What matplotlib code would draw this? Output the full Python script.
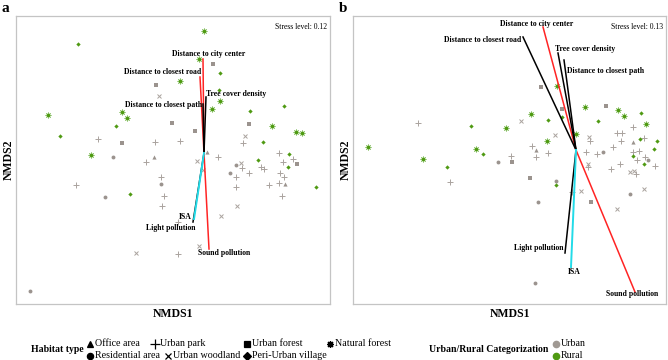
import matplotlib.pyplot as plt

plt.rcParams['font.family'] = ['Liberation Serif', 'DejaVu Serif']

GRAY = '#9b938e'
GREEN = '#4f9a12'
RED = '#ff2424'
CYAN = '#22dbe8'

# ordination scores (screen units, y grows downward)
a_park = [(98, 139), (155, 142), (180, 141), (243, 143), (146, 162), (218, 157), (242, 168),
          (249, 173), (236, 177), (261, 167), (264, 169), (279, 153), (293, 159), (283, 162),
          (280, 173), (284, 177), (279, 183), (269, 185), (236, 187), (76, 185), (161, 177),
          (164, 196), (162, 206), (282, 196), (178, 222), (178, 254)]
a_woodland = [(159, 96), (245, 136), (197, 161), (241, 163), (203, 170), (237, 206), (221, 216),
              (199, 246), (136, 253)]
a_forest = [(213, 64), (156, 85), (172, 123), (249, 124), (195, 131), (122, 143), (297, 164)]
a_residential = [(113, 157), (236, 165), (230, 173), (161, 184), (105, 197), (30, 291)]
a_office = [(154, 157), (207, 152), (285, 184)]
a_natural = [(204, 31), (199, 59), (180, 81), (220, 101), (212, 109), (48, 115), (122, 112),
             (127, 118), (272, 126), (296, 132), (302, 133), (91, 155)]
a_village = [(78, 44), (220, 73), (219, 90), (284, 106), (250, 111), (116, 126), (60, 136),
             (263, 142), (258, 160), (289, 154), (288, 167), (316, 187), (130, 194)]

b_park = [(418, 123), (633, 127), (617, 133), (622, 133), (590, 141), (644, 138), (532, 146),
          (613, 147), (511, 156), (548, 153), (536, 157), (586, 152), (597, 154), (621, 141),
          (633, 152), (639, 151), (645, 157), (637, 160), (655, 166), (620, 164), (611, 169),
          (636, 174), (588, 167), (450, 182), (572, 192)]
b_woodland = [(521, 121), (555, 135), (589, 137), (630, 172), (634, 171), (588, 164), (581, 191),
              (644, 189), (617, 209)]
b_forest = [(541, 87), (562, 109), (606, 106), (512, 162), (530, 178), (591, 202)]
b_residential = [(603, 152), (648, 160), (498, 162), (556, 181), (538, 202), (630, 194), (535, 283)]
b_office = [(633, 142), (536, 150)]
b_natural = [(557, 86), (585, 107), (618, 110), (624, 116), (531, 114), (506, 128), (646, 124),
             (576, 134), (547, 141), (368, 147), (476, 149), (423, 159)]
b_village = [(641, 113), (548, 120), (562, 117), (598, 121), (471, 126), (640, 139), (657, 141),
             (483, 154), (654, 149), (633, 156), (644, 164), (447, 167), (556, 185)]

# environmental vectors: name, tip, colour
a_origin = (204, 153)
a_vectors = [('Distance to city center', (203, 59), RED),
             ('Distance to closest road', (200, 77), RED),
             ('Tree cover density', (206, 97), 'black'),
             ('Distance to closest path', (203, 104), 'black'),
             ('Light pollution', (193, 222), 'black'),
             ('ISA', (194, 219), CYAN),
             ('Sound pollution', (209, 249), RED)]
b_origin = (576, 150)
b_vectors = [('Distance to city center', (543, 27), RED),
             ('Distance to closest road', (523, 37), 'black'),
             ('Tree cover density', (558, 53), 'black'),
             ('Distance to closest path', (564, 60), 'black'),
             ('Light pollution', (565, 253), 'black'),
             ('ISA', (571, 267), CYAN),
             ('Sound pollution', (635, 292), RED)]

# label placement (x, y, ha)
a_label_pos = {'Distance to city center': (209, 54, 'center'),
               'Distance to closest road': (201, 72, 'right'),
               'Tree cover density': (206, 94, 'left'),
               'Distance to closest path': (202, 105, 'right'),
               'Light pollution': (196, 228, 'right'),
               'ISA': (192, 217, 'right'),
               'Sound pollution': (198, 253, 'left')}
b_label_pos = {'Distance to city center': (537, 24, 'center'),
               'Distance to closest road': (521, 40, 'right'),
               'Tree cover density': (555, 49, 'left'),
               'Distance to closest path': (567, 71, 'left'),
               'Light pollution': (563, 248, 'right'),
               'ISA': (574, 272, 'center'),
               'Sound pollution': (606, 294, 'left')}

W, H = 668, 360
fig = plt.figure(figsize=(6.68, 3.6), dpi=100)


def draw_points(ax, pts, marker, color, size, mew=0.8):
    xs, ys = zip(*pts)
    ax.plot(xs, ys, linestyle='none', marker=marker, markersize=size,
            color=color, markeredgewidth=mew, zorder=2)


def panel(rect, groups, origin, vectors, label_pos, stress, letter):
    ax = fig.add_axes([rect[0] / W, 1 - rect[3] / H, (rect[2] - rect[0]) / W, (rect[3] - rect[1]) / H])
    ax.set_xlim(rect[0], rect[2])
    ax.set_ylim(rect[3], rect[1])
    park, woodland, forest, residential, office, natural, village = groups
    draw_points(ax, park, '+', '#aaa39e', 5, mew=0.7)
    draw_points(ax, woodland, 'x', '#aaa39e', 3.3, mew=0.7)
    draw_points(ax, forest, 's', GRAY, 2.8, mew=0)
    draw_points(ax, residential, 'o', GRAY, 2.8, mew=0)
    draw_points(ax, office, '^', GRAY, 3, mew=0)
    draw_points(ax, natural, (8, 2, 0), '#9acb7c', 4.3, mew=0.6)
    draw_points(ax, natural, 'o', GREEN, 2.6, mew=0)
    draw_points(ax, village, 'D', GREEN, 2.2, mew=0)

    for name, tip, col in vectors:
        lw = 1.4 if col == CYAN else 1.1
        ax.plot([origin[0], tip[0]], [origin[1], tip[1]], color=col, lw=lw,
                zorder=4 if col == CYAN else 3)
        lx, ly, ha = label_pos[name]
        ax.text(lx, ly, name, ha=ha, va='center', fontsize=5.6, fontweight='bold', zorder=5)

    ax.text(0.992, 0.975, 'Stress level: ' + stress, transform=ax.transAxes,
            ha='right', va='top', fontsize=5.5)
    ax.set_xticks([])
    ax.set_yticks([])
    for s in ax.spines.values():
        s.set_color('#c4c4c4')
        s.set_linewidth(0.9)
    ax.set_xlabel('NMDS1', fontsize=8.5, fontweight='bold', labelpad=3)
    ax.set_ylabel('NMDS2', fontsize=8.5, fontweight='bold', labelpad=1)
    fig.text((rect[0] - 14) / W, 1 - 9 / H, letter, fontsize=11, fontweight='bold', va='center')
    return ax


panel((16, 16, 330, 304),
      (a_park, a_woodland, a_forest, a_residential, a_office, a_natural, a_village),
      a_origin, a_vectors, a_label_pos, '0.12', 'a')
panel((353, 16, 666, 304),
      (b_park, b_woodland, b_forest, b_residential, b_office, b_natural, b_village),
      b_origin, b_vectors, b_label_pos, '0.13', 'b')

# legends drawn in figure pixel space
leg = fig.add_axes([0, 0, 1, 1])
leg.set_xlim(0, W)
leg.set_ylim(H, 0)
leg.axis('off')

habitat_names = ['Office area', 'Residential area', 'Urban park', 'Urban woodland',
                 'Urban forest', 'Peri-Urban village', 'Natural forest']
habitat_markers = ['^', 'o', '+', 'x', 's', 'D', (8, 2, 0)]
row1, row2 = 344, 356
slots = [(90, row1), (90, row2), (155, row1), (168, row2), (247, row1), (247, row2), (330, row1)]
leg.text(31, 350, 'Habitat type', fontsize=7, fontweight='bold', va='center')
for name, mk, (x, y) in zip(habitat_names, habitat_markers, slots):
    ms = {'^': 4.5, 'o': 4.5, 's': 4.2, 'D': 4, '+': 6.5, 'x': 4.5}.get(mk, 5)
    leg.plot([x], [y], marker=mk, color='black', markersize=ms, markeredgewidth=0.9,
             linestyle='none')
    leg.text(x + 5, y, name, fontsize=7.2, va='center')

leg.text(429, 350, 'Urban/Rural Categorization', fontsize=7, fontweight='bold', va='center')
for name, col, y in zip(['Urban', 'Rural'], ['#a09993', GREEN], [row1, row2]):
    leg.plot([556], [y], marker='o', color=col, markersize=4.5, linestyle='none')
    leg.text(561, y, name, fontsize=7.2, va='center')

plt.savefig('out.png', dpi=100)
